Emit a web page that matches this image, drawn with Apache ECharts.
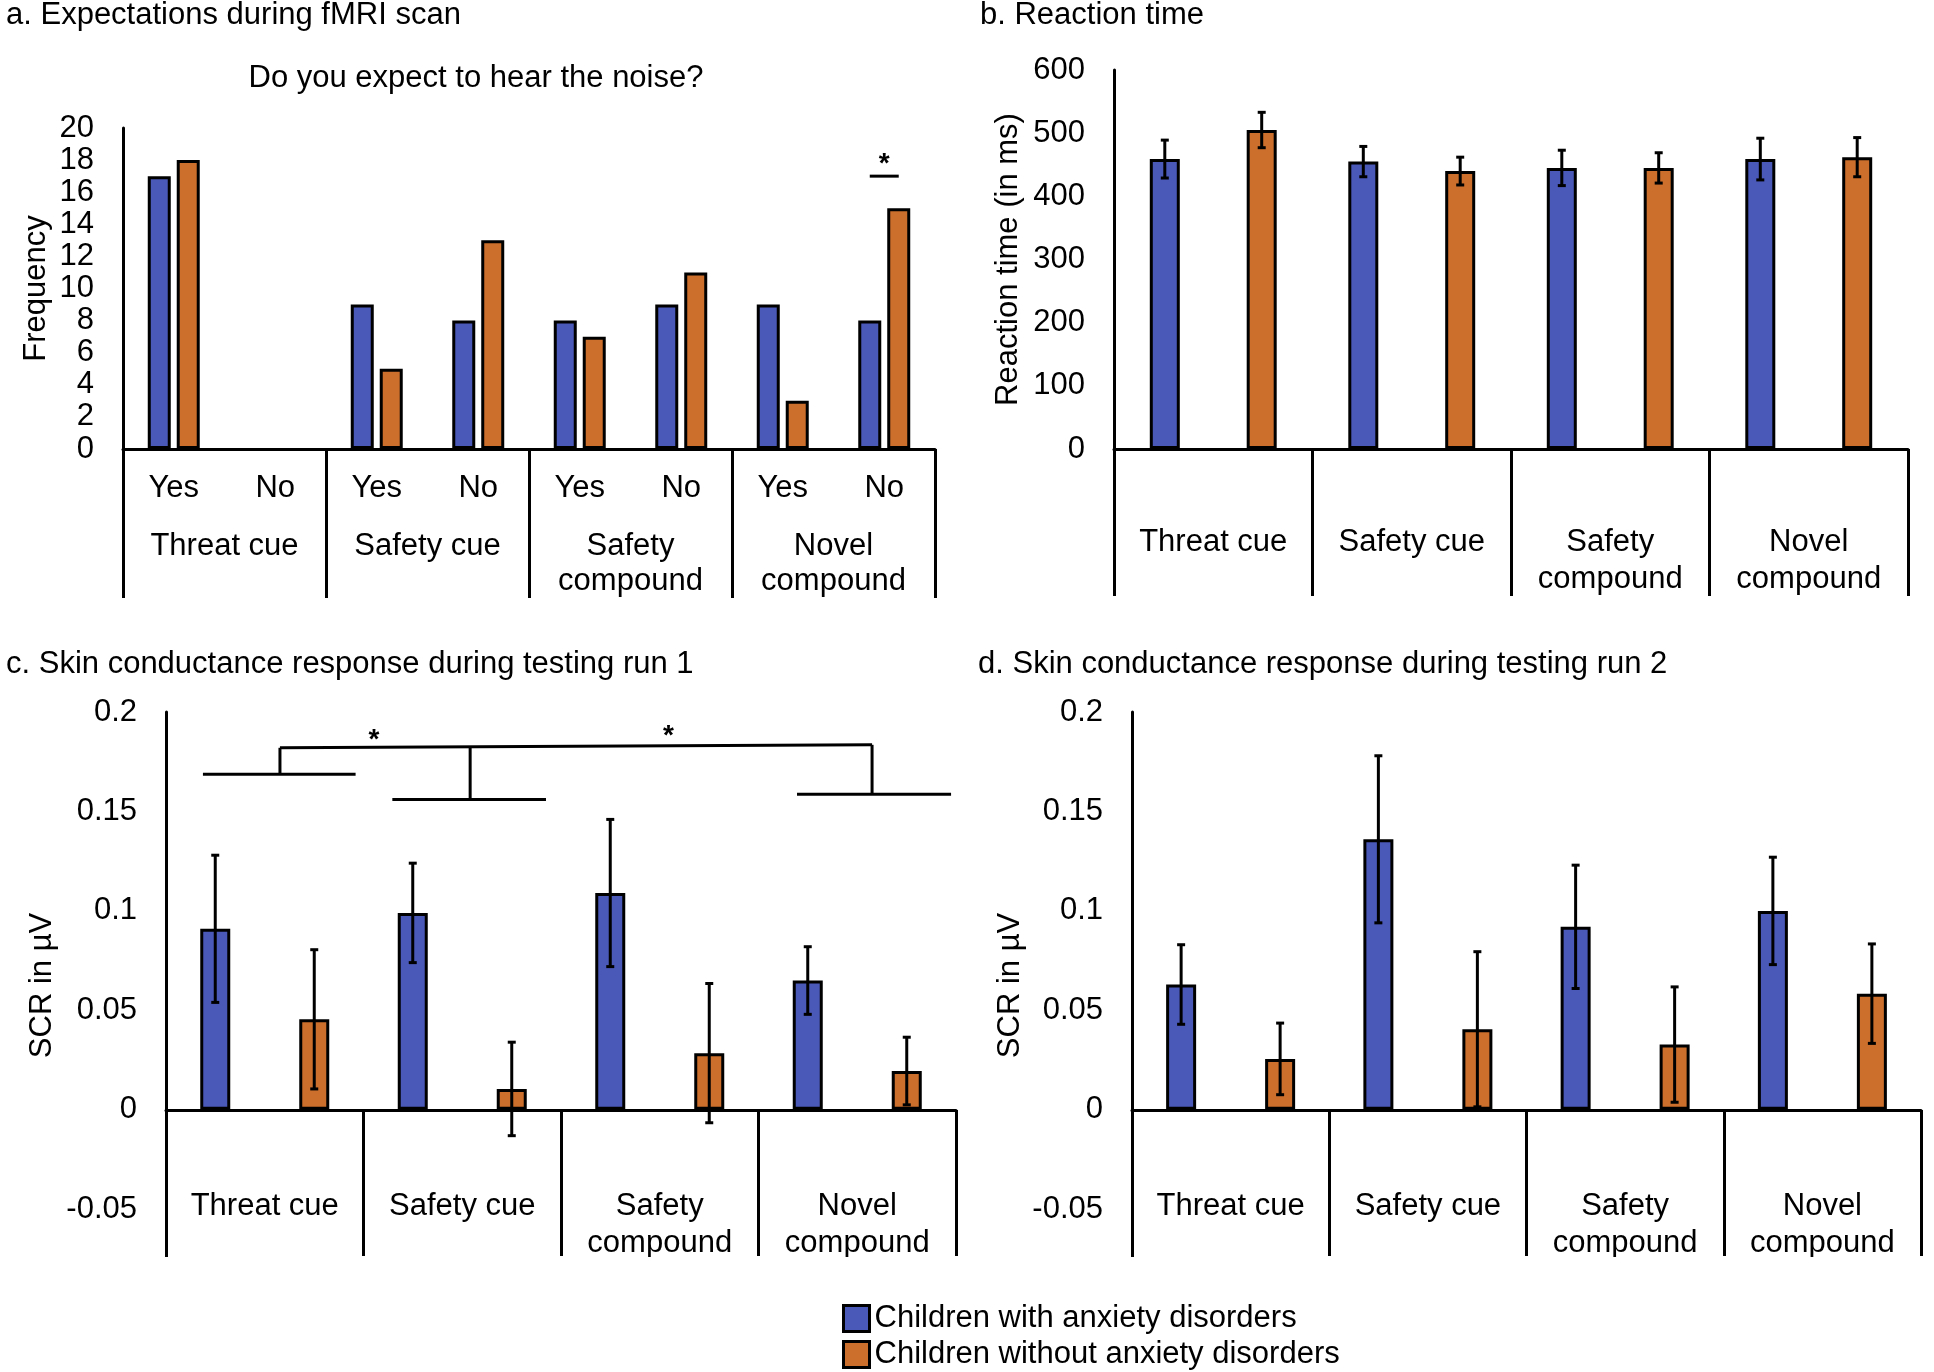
<!DOCTYPE html>
<html><head><meta charset="utf-8">
<script src="https://cdn.jsdelivr.net/npm/echarts@6/dist/echarts.min.js"></script>
<style>html,body{margin:0;padding:0;background:#fff}#c{width:1934px;height:1372px}</style>
</head><body><div id="c"></div>
<script>
// ---------- data ----------
const seriesNames = ['Children with anxiety disorders', 'Children without anxiety disorders'];
// Panel a: expectations (frequency)
const expSubCats = ['Yes', 'No', 'Yes', 'No', 'Yes', 'No', 'Yes', 'No'];
const cueGroups = ['Threat cue', 'Safety cue', 'Safety\ncompound', 'Novel\ncompound'];
const expAnxious    = [17, 0, 9, 8, 8, 9, 9, 8];
const expNonAnxious = [18, 0, 5, 13, 7, 11, 3, 15];
const expSig = [[7, 17]]; // [sub-category index, height of significance line]

// Panel b: reaction time (ms)
const rtAnxious       = [459, 455, 445, 459];
const rtAnxiousErr    = [30, 24, 28, 33];
const rtNonAnxious    = [505, 440, 445, 462];
const rtNonAnxiousErr = [28, 22, 24, 31];

// Panel c: SCR run 1
const scr1Anxious       = [0.091, 0.099, 0.109, 0.065];
const scr1AnxiousErr    = [0.037, 0.025, 0.037, 0.017];
const scr1NonAnxious    = [0.0455, 0.0105, 0.0285, 0.0195];
const scr1NonAnxiousErr = [0.035, 0.0235, 0.035, 0.017];
// significance brackets: [x from, x to (category units), y from, y to]
const scr1Bracket = [
  [0.187, 0.960, 0.1687, 0.1687],
  [1.146, 1.924, 0.1560, 0.1560],
  [3.195, 3.975, 0.1587, 0.1587],
  [0.577, 0.577, 0.1687, 0.1820],
  [1.540, 1.540, 0.1560, 0.1825],
  [3.575, 3.575, 0.1587, 0.1835],
  [0.577, 3.575, 0.1820, 0.1835]
];
const scr1Stars = [[1.053, 0.189], [2.544, 0.191]];

// Panel d: SCR run 2
const scr2Anxious       = [0.063, 0.136, 0.092, 0.100];
const scr2AnxiousErr    = [0.020, 0.042, 0.031, 0.027];
const scr2NonAnxious    = [0.0256, 0.0405, 0.0328, 0.0584];
const scr2NonAnxiousErr = [0.018, 0.039, 0.029, 0.025];

// ---------- style ----------
const FONT = "'Liberation Sans', Arial, Helvetica, sans-serif";
const FS = 31;
const BLUE = '#4A58B8';
const ORANGE = '#CC6F2C';
const BLACK = '#000';

function barSeries(name, color, data, xi, yi, bw, gap) {
  return {
    type: 'bar', name: name, xAxisIndex: xi, yAxisIndex: yi,
    data: data.map(v => v === 0 ? { value: v, itemStyle: { borderWidth: 0 } } : v),
    barWidth: bw, barGap: gap, animation: false,
    itemStyle: { color: color, borderColor: BLACK, borderWidth: 3 }
  };
}
function errSeries(means, errs, xi, yi, offset) {
  return {
    type: 'custom', xAxisIndex: xi, yAxisIndex: yi, z: 10, animation: false, silent: true,
    encode: { x: 0, y: [1, 2] },
    data: means.map((m, i) => [i, m - errs[i], m + errs[i]]),
    renderItem: function (params, api) {
      const lo = api.coord([api.value(0), api.value(1)]);
      const hi = api.coord([api.value(0), api.value(2)]);
      const x = lo[0] + offset, c = 4;
      const st = { stroke: BLACK, lineWidth: 3 };
      return { type: 'group', children: [
        { type: 'line', shape: { x1: x, y1: lo[1], x2: x, y2: hi[1] }, style: st },
        { type: 'line', shape: { x1: x - c, y1: hi[1], x2: x + c, y2: hi[1] }, style: st },
        { type: 'line', shape: { x1: x - c, y1: lo[1], x2: x + c, y2: lo[1] }, style: st }
      ]};
    }
  };
}
function yAxisBase(gi, min, max, interval, name, nameGap, fmt) {
  return {
    type: 'value', gridIndex: gi, min: min, max: max, interval: interval,
    name: name, nameLocation: 'middle', nameGap: nameGap,
    nameTextStyle: { fontFamily: FONT, fontSize: FS, color: BLACK },
    axisLine: { show: true, lineStyle: { color: BLACK, width: 3 } },
    axisTick: { show: false }, splitLine: { show: false },
    axisLabel: { fontFamily: FONT, fontSize: FS, color: BLACK, margin: 29, formatter: fmt,
                 showMinLabel: true, showMaxLabel: true }
  };
}
function groupXAxis(gi, tickLen, margin, lh, showLine) {
  return {
    type: 'category', gridIndex: gi, data: cueGroups, position: 'bottom',
    axisLine: { show: showLine, onZero: false, lineStyle: { color: BLACK, width: 3 } },
    axisTick: { show: true, length: tickLen, alignWithLabel: false, interval: 0, lineStyle: { color: BLACK, width: 3 } },
    axisLabel: { interval: 0, fontFamily: FONT, fontSize: FS, color: BLACK, margin: margin, lineHeight: lh }
  };
}
function zeroLineXAxis(gi) {
  return {
    type: 'category', gridIndex: gi, data: cueGroups,
    axisLine: { show: true, onZero: true, lineStyle: { color: BLACK, width: 3 } },
    axisTick: { show: false }, axisLabel: { show: false }
  };
}
function scrFmt(v) {
  const k = Math.round(v / 0.05 * 1e6) / 1e6;
  if (Math.abs(k - Math.round(k)) > 1e-6) return '';
  return String(+(Math.round(k) * 0.05).toFixed(2));
}

const chart = echarts.init(document.getElementById('c'), null, { renderer: 'canvas' });
const off3 = 30 * (1 + 2.30) / 2;
const offB = 30 * (1 + 2.23) / 2;
const G = { outerBoundsMode: 'none', containLabel: false };

const option = {
  animation: false,
  backgroundColor: '#fff',
  textStyle: { fontFamily: FONT },
  grid: [
    Object.assign({ left: 123, top: 128, width: 812, height: 321 }, G),   // 0 a bars
    Object.assign({ left: 123, top: 128, width: 812, height: 321 }, G),   // 1 a groups
    Object.assign({ left: 1114, top: 70, width: 794, height: 379 }, G),   // 2 b
    Object.assign({ left: 166, top: 712, width: 790, height: 547 }, G),   // 3 c
    Object.assign({ left: 1132, top: 712, width: 789, height: 547 }, G),  // 4 d
    Object.assign({ left: 166, top: 712, width: 790, height: 398 }, G),   // 5 c categories (bottom = zero)
    Object.assign({ left: 1132, top: 712, width: 789, height: 398 }, G)   // 6 d categories
  ],
  xAxis: [
    { type: 'category', gridIndex: 0, data: expSubCats,
      axisLine: { show: true, lineStyle: { color: BLACK, width: 3 } },
      axisTick: { show: false },
      axisLabel: { interval: 0, fontFamily: FONT, fontSize: FS, color: BLACK, margin: 24 } },
    groupXAxis(1, 149, 80, 35, false),
    groupXAxis(2, 147, 75, 37, true),
    zeroLineXAxis(3),
    zeroLineXAxis(4),
    groupXAxis(5, 146, 78, 37, false),
    groupXAxis(6, 146, 78, 37, false)
  ],
  yAxis: [
    yAxisBase(0, 0, 20, 2, 'Frequency', 71),
    { type: 'value', gridIndex: 1, min: 0, max: 20, show: false },
    yAxisBase(2, 0, 600, 100, 'Reaction time (in ms)', 90),
    yAxisBase(3, -0.075, 0.2, 0.025, 'SCR in µV', 108, scrFmt),
    yAxisBase(4, -0.075, 0.2, 0.025, 'SCR in µV', 106, scrFmt),
    { type: 'value', gridIndex: 5, min: 0, max: 0.2, show: false },
    { type: 'value', gridIndex: 6, min: 0, max: 0.2, show: false }
  ],
  legend: {
    orient: 'vertical', left: 842, top: 1303, padding: 0,
    itemWidth: 26, itemHeight: 26, itemGap: 5, icon: 'rect',
    itemStyle: { borderColor: BLACK, borderWidth: 3 },
    textStyle: { fontFamily: FONT, fontSize: FS, lineHeight: 30, color: BLACK },
    data: seriesNames
  },
  series: [
    barSeries(seriesNames[0], BLUE, expAnxious, 0, 0, 23, '26%'),
    barSeries(seriesNames[1], ORANGE, expNonAnxious, 0, 0, 23, '26%'),
    {
      type: 'custom', xAxisIndex: 0, yAxisIndex: 0, z: 10, silent: true, animation: false,
      encode: { x: 0, y: 1 }, data: expSig,
      renderItem: function (params, api) {
        const p = api.coord([api.value(0), api.value(1)]);
        const h = 23 * 1.26 / 2;
        return { type: 'group', children: [
          { type: 'line', shape: { x1: p[0] - h, y1: p[1], x2: p[0] + h, y2: p[1] }, style: { stroke: BLACK, lineWidth: 3 } },
          { type: 'text', style: { x: p[0], y: p[1] - 12, text: '*', align: 'center', verticalAlign: 'middle',
                                   font: 'bold 28px ' + FONT, fill: BLACK } }
        ]};
      }
    },

    barSeries(seriesNames[0], BLUE, rtAnxious, 2, 2, 30, '223%'),
    barSeries(seriesNames[1], ORANGE, rtNonAnxious, 2, 2, 30, '223%'),
    errSeries(rtAnxious, rtAnxiousErr, 2, 2, -offB),
    errSeries(rtNonAnxious, rtNonAnxiousErr, 2, 2, offB),

    barSeries(seriesNames[0], BLUE, scr1Anxious, 3, 3, 30, '230%'),
    barSeries(seriesNames[1], ORANGE, scr1NonAnxious, 3, 3, 30, '230%'),
    errSeries(scr1Anxious, scr1AnxiousErr, 3, 3, -off3),
    errSeries(scr1NonAnxious, scr1NonAnxiousErr, 3, 3, off3),
    {
      type: 'custom', xAxisIndex: 3, yAxisIndex: 3, z: 10, silent: true, animation: false,
      encode: { x: -1, y: [2, 3] }, data: scr1Bracket,
      renderItem: function (params, api) {
        const catW = api.size([1, 0])[0];
        const x0 = api.coord([0, 0])[0] - catW / 2;
        const y1 = api.coord([0, api.value(2)])[1];
        const y2 = api.coord([0, api.value(3)])[1];
        return { type: 'line', shape: { x1: x0 + api.value(0) * catW, y1: y1, x2: x0 + api.value(1) * catW, y2: y2 },
                 style: { stroke: BLACK, lineWidth: 3 } };
      }
    },
    {
      type: 'custom', xAxisIndex: 3, yAxisIndex: 3, z: 10, silent: true, animation: false,
      encode: { x: -1, y: 1 }, data: scr1Stars,
      renderItem: function (params, api) {
        const catW = api.size([1, 0])[0];
        const x0 = api.coord([0, 0])[0] - catW / 2;
        const y = api.coord([0, api.value(1)])[1];
        return { type: 'text', style: { x: x0 + api.value(0) * catW, y: y + 6, text: '*', align: 'center',
                 verticalAlign: 'middle', font: 'bold 28px ' + FONT, fill: BLACK } };
      }
    },

    barSeries(seriesNames[0], BLUE, scr2Anxious, 4, 4, 30, '230%'),
    barSeries(seriesNames[1], ORANGE, scr2NonAnxious, 4, 4, 30, '230%'),
    errSeries(scr2Anxious, scr2AnxiousErr, 4, 4, -off3),
    errSeries(scr2NonAnxious, scr2NonAnxiousErr, 4, 4, off3)
  ],
  graphic: [
    { type: 'text', z: 50, style: { x: 6, y: 15, text: 'a. Expectations during fMRI scan', font: FS + 'px ' + FONT, fill: BLACK, verticalAlign: 'middle' } },
    { type: 'text', z: 50, style: { x: 476, y: 78, text: 'Do you expect to hear the noise?', font: FS + 'px ' + FONT, fill: BLACK, align: 'center', verticalAlign: 'middle' } },
    { type: 'text', z: 50, style: { x: 980, y: 15, text: 'b. Reaction time', font: FS + 'px ' + FONT, fill: BLACK, verticalAlign: 'middle' } },
    { type: 'text', z: 50, style: { x: 6, y: 664, text: 'c. Skin conductance response during testing run 1', font: FS + 'px ' + FONT, fill: BLACK, verticalAlign: 'middle' } },
    { type: 'text', z: 50, style: { x: 978, y: 664, text: 'd. Skin conductance response during testing run 2', font: FS + 'px ' + FONT, fill: BLACK, verticalAlign: 'middle' } },
    { type: 'rect', z: 40, shape: { x: 0, y: 1257, width: 1934, height: 40 }, style: { fill: '#fff' } }
  ]
};
chart.setOption(option);
</script></body></html>
